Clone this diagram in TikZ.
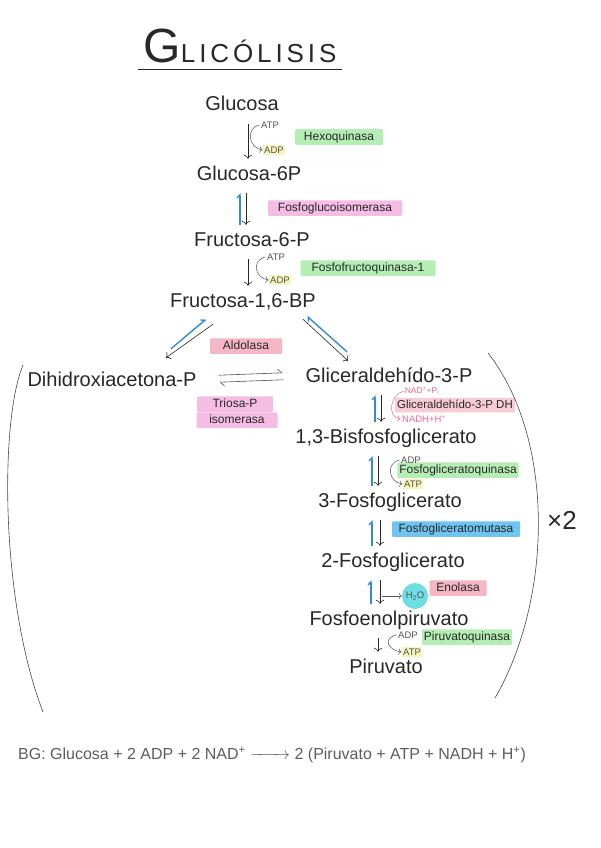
\documentclass[tikz,border=0pt]{standalone}
\usepackage{fontspec}
\setmainfont{Liberation Sans}
\usetikzlibrary{arrows.meta}
\definecolor{ink}{RGB}{40,40,40}
\definecolor{hlgreen}{RGB}{180,238,180}
\definecolor{hlpink}{RGB}{245,188,228}
\definecolor{hlrose}{RGB}{245,182,198}
\definecolor{hlyellow}{RGB}{246,246,188}
\definecolor{hlblue}{RGB}{112,196,240}
\definecolor{hlcyan}{RGB}{110,222,226}
\definecolor{arrblue}{RGB}{50,140,212}
\definecolor{nadpink}{RGB}{232,110,145}

\begin{document}
\begin{tikzpicture}[x=1pt, y=-1pt,
	met/.style={font=\fontsize{20}{24}\selectfont, text=ink, text height=14pt, text depth=4pt, inner sep=2pt},
	enz/.style={fill=#1, text=ink, font=\fontsize{12}{14}\selectfont, text height=9pt, text depth=2.5pt, inner sep=2pt, rounded corners=1pt},
	cof/.style={text=ink!80, font=\fontsize{9.5}{11}\selectfont, inner sep=1.5pt},
	fwd/.style={draw=ink, line width=0.6pt, -{To[length=4pt]}, shorten <=7pt, shorten >=5pt},
	rev/.style={draw=arrblue, line width=1.4pt, -{Straight Barb[left, length=3pt]}, shorten <=5pt, shorten >=7pt},
	side/.style={draw=ink!80, line width=0.5pt, -{To[length=3pt]}},
	hp/.style={draw=ink!80, line width=0.6pt, -{Straight Barb[left, length=4pt]}, shorten <=20pt, shorten >=21pt}]
	\fill[white] (0,0) rectangle (601,848);
	\useasboundingbox (0,0) rectangle (601,848);
	% title
	\node[anchor=base, text=ink, inner sep=0pt] (title) at (240,63) {{\fontsize{48}{48}\selectfont G}{\addfontfeature{LetterSpace=15}\fontsize{26}{26}\selectfont LICÓLISIS}};
	\draw[ink, line width=1pt] ([shift={(-5,7)}]title.base west) -- ([shift={(5,7)}]title.base east);
	% metabolites
	\node[met] (glc) at (242,106) {Glucosa};
	\node[met] (g6p) at (249,175) {Glucosa-6P};
	\node[met] (f6p) at (252,241) {Fructosa-6-P};
	\node[met] (fbp) at (243,302) {Fructosa-1,6-BP};
	\node[met] (dhap) at (112,381) {Dihidroxiacetona-P};
	\node[met] (gap) at (389,377) {Gliceraldehído-3-P};
	\node[met] (bpg) at (386,438) {1,3-Bisfosfoglicerato};
	\node[met] (pg3) at (390,502) {3-Fosfoglicerato};
	\node[met] (pg2) at (393,562) {2-Fosfoglicerato};
	\node[met] (pep) at (389,620) {Fosfoenolpiruvato};
	\node[met] (pyr) at (386,668) {Piruvato};
	% enzymes
	\node[enz=hlgreen, minimum width=88] (hk) at (339,137) {Hexoquinasa};
	\node[enz=hlpink, minimum width=134] (pgi) at (335,208) {Fosfoglucoisomerasa};
	\node[enz=hlgreen, minimum width=135] (pfk) at (368,268) {Fosfofructoquinasa-1};
	\node[enz=hlrose, minimum width=72] (ald) at (246,346) {Aldolasa};
	\node[enz=hlpink, minimum width=76] (tpi1) at (235,404) {Triosa-P};
	\node[enz=hlpink, minimum width=81] (tpi2) at (237,420) {isomerasa};
	\node[enz=hlrose!70, font=\fontsize{11.5}{13}\selectfont, text height=8.5pt, text depth=2pt] (gapdh) at (455,405) {Gliceraldehído-3-P DH};
	\node[enz=hlgreen] (pgk) at (458,470) {Fosfogliceratoquinasa};
	\node[enz=hlblue, minimum width=128] (pgm) at (456,529) {Fosfogliceratomutasa};
	\node[enz=hlrose, minimum width=57] (eno) at (458,588) {Enolasa};
	\node[enz=hlgreen] (pk) at (467,637) {Piruvatoquinasa};
	% cofactors
	\node[cof] (atp1) at (270,125) {ATP};
	\node[cof, fill=hlyellow] (adp1) at (274,150) {ADP};
	\node[cof] (atp3) at (276,257) {ATP};
	\node[cof, fill=hlyellow] (adp3) at (280,280) {ADP};
	\node[cof, text=nadpink, font=\fontsize{8.5}{10}\selectfont, inner sep=0.5pt] (nad) at (422,391) {NAD\textsuperscript{+}+P\textsubscript{i}};
	\node[cof, text=nadpink] (nadh) at (424,419) {NADH+H\textsuperscript{+}};
	\node[cof] (adp5) at (411,460) {ADP};
	\node[cof, fill=hlyellow] (atp5) at (413,484) {ATP};
	\node[cof, circle, fill=hlcyan, minimum size=26, inner sep=0pt] (h2o) at (415,596) {H\textsubscript{2}O};
	\node[cof] (adp8) at (408,635) {ADP};
	\node[cof, fill=hlyellow] (atp8) at (412,652) {ATP};
	\coordinate (e7) at (382,596);
	% main steps
	\foreach \a/\b/\dx in {glc/g6p/6, g6p/f6p/-3, f6p/fbp/-4, gap/bpg/-8, bpg/pg3/-8, pg3/pg2/-10, pg2/pep/-13, pep/pyr/-11}
		\draw[fwd] ([xshift=\dx]\a.south) -- ([xshift=\dx]\a.south |- \b.north);
	\foreach \a/\b/\dx in {g6p/f6p/-9, gap/bpg/-14, bpg/pg3/-14, pg3/pg2/-18, pg2/pep/-22}
		\draw[rev] ([xshift=\dx]\a.south |- \b.north) -- ([xshift=\dx]\a.south);
	\draw[fwd, shorten <=0pt, shorten >=0pt] ([shift={(-30,11)}]fbp.south) -- ([shift={(54,-12)}]dhap.north);
	\draw[rev, shorten <=0pt, shorten >=0pt] ([shift={(59,-21)}]dhap.north) -- ([shift={(-37,6)}]fbp.south);
	\draw[fwd, shorten <=0pt, shorten >=0pt] ([shift={(60,6)}]fbp.south) -- ([shift={(-41,-5)}]gap.north);
	\draw[rev, shorten <=0pt, shorten >=0pt] ([shift={(-42,-14)}]gap.north) -- ([shift={(64,3)}]fbp.south);
	\draw[hp] ([yshift=5pt]dhap.east) -- ([yshift=5pt]gap.west);
	\draw[hp] ([yshift=-2pt]gap.west) -- ([yshift=-2pt]dhap.east);
	% side reactions
	\draw[side] (atp1.west) .. controls +(-14,3) and +(-14,-2) .. (adp1.west);
	\draw[side] (atp3.west) .. controls +(-14,3) and +(-14,-2) .. (adp3.west);
	\draw[side, draw=nadpink] (nad.west) .. controls +(-14,3) and +(-14,-2) .. (nadh.west);
	\draw[side] (adp5.west) .. controls +(-14,3) and +(-14,-2) .. (atp5.west);
	\draw[side] (e7) -- (h2o.west);
	\draw[side] (adp8.west) .. controls +(-14,3) and +(-14,-2) .. (atp8.west);
	% brackets
	\draw[ink!85, line width=0.6pt] (23,365) .. controls (0,420) and (0,600) .. (43,712);
	\draw[ink!85, line width=0.6pt] (488,353) .. controls (556,440) and (552,600) .. (495,698);
	\node[text=ink, font=\fontsize{26}{28}\selectfont] (times) at (562,520) {×2};
	% balance
	\node[text=ink!75, font=\fontsize{16}{18}\selectfont] (bg) at (272,755) {BG: Glucosa + 2 ADP + 2 NAD\textsuperscript{+} \makebox[40pt]{\rightarrowfill} 2 (Piruvato + ATP + NADH + H\textsuperscript{+})};
\end{tikzpicture}
\end{document}
